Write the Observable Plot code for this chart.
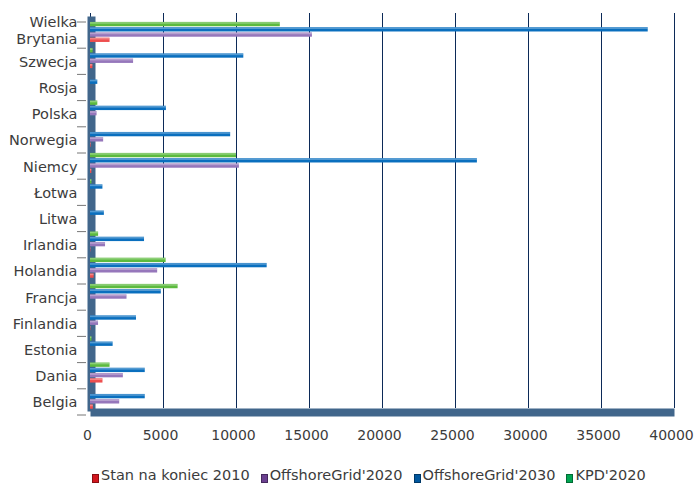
<!DOCTYPE html>
<html><head><meta charset="utf-8">
<script src="https://cdn.jsdelivr.net/npm/d3@7"></script>
<script src="https://cdn.jsdelivr.net/npm/@observablehq/plot@0.6"></script>
<style>
body{margin:0;background:#fff;font-family:"DejaVu Sans",sans-serif;}
#wrap{position:relative;width:695px;height:486px;overflow:hidden;}
#legend{position:absolute;left:92px;top:467px;display:flex;align-items:flex-end;font-size:14.5px;color:#3c3c3c;white-space:nowrap;line-height:17px;}
.item{display:flex;align-items:flex-end;margin-right:11px;}
.sw{width:7px;height:9px;margin-right:2px;margin-bottom:1px;box-sizing:border-box;border:1px solid rgba(0,0,0,0.35);}
</style></head><body><div id="wrap"></div>
<script>
const countries = ["Wielka Brytania","Szwecja","Rosja","Polska","Norwegia","Niemcy","Łotwa","Litwa","Irlandia","Holandia","Francja","Finlandia","Estonia","Dania","Belgia"];
const labels = ["Wielka\nBrytania","Szwecja","Rosja","Polska","Norwegia","Niemcy","Łotwa","Litwa","Irlandia","Holandia","Francja","Finlandia","Estonia","Dania","Belgia"];
const series = ["KPD'2020","OffshoreGrid'2030","OffshoreGrid'2020","Stan na koniec 2010"];
const kpd2020   = [13000, 180,   0,  500,    0, 10000, 100,   0,  555, 5180, 6000,    0,  100, 1340,    0];
const og2030    = [38200, 10500, 500, 5200, 9600, 26500, 850, 950, 3700, 12100, 4850, 3150, 1550, 3750, 3750];
const og2020    = [15200, 2950,  0,  450,  900, 10200,   0,   0, 1030, 4600, 2500,  550,    0, 2250, 2000];
const stan2010  = [1340,  164,   0,    0,   40,   92,   0,   0,   25,  249,    0,   26,    0,  854,  195];
const legendOrder = ["Stan na koniec 2010","OffshoreGrid'2020","OffshoreGrid'2030","KPD'2020"];
const legendColors = ["#d2161e","#6b4090","#00579e","#00a551"];
const barColors = ["#5cba3e","#0a6fbe","#9677bb","#ee4f4f"];
const xTicks = [0,5000,10000,15000,20000,25000,30000,35000,40000];

const valuesBySeries = [kpd2020, og2030, og2020, stan2010];
const rows = [];
countries.forEach((c,i)=>{ series.forEach((s,j)=>{ rows.push({country:c, series:s, value: valuesBySeries[j][i], key: c+"|"+s}); }); });
const yDomain = countries.flatMap(c => [...series.map(s => c+"|"+s), c+"|"]);
const yRange = [21.5, 414.5];
const bw = (yRange[1]-yRange[0]) / yDomain.length;

const chart = Plot.plot({
  width: 695, height: 455,
  marginLeft: 90, marginRight: 21, marginTop: 13, marginBottom: 47,
  style: {fontFamily: "DejaVu Sans", fontSize: "14px", color: "#3c3c3c", background: "white", overflow: "visible"},
  x: {domain: [0, 40000], axis: null},
  y: {domain: yDomain, range: yRange, padding: 0, round: false, axis: null},
  color: {domain: series, range: barColors},
  marks: [
    Plot.gridX(xTicks, {stroke: "#0c2a58", strokeOpacity: 1, strokeWidth: 1}),
    Plot.frame({anchor: "left", stroke: "#41668b", strokeWidth: 8, strokeLinecap: "butt", dx: 1, dy: 3}),
    Plot.frame({anchor: "bottom", stroke: "#41668b", strokeWidth: 8, strokeLinecap: "butt", dy: 4}),
    Plot.barX(rows, {x: "value", y: "key", fill: "series", insetTop: 0.4, insetBottom: 0.5}),
    Plot.barX(rows, {x: "value", y: "key", fill: "white", fillOpacity: 0.3, insetTop: 0.6, insetBottom: 3}),
    Plot.axisY(countries.map(c => c+"|"+series[0]), {label: null, tickSize: 9, dx: -4, dy: -bw/2, tickFormat: () => "", stroke: "#777"}),
    Plot.axisY([countries[countries.length-1]+"|"], {label: null, tickSize: 9, dx: -4, dy: bw/2, tickFormat: () => "", stroke: "#777"}),
    Plot.text(countries, {y: (c, i) => c + "|" + (labels[i].includes("\n") ? series[1] : series[2]), text: labels, frameAnchor: "left", textAnchor: "end", dx: -13, fontSize: 14.5, fill: "#3c3c3c", lineHeight: 1.2}),
    Plot.axisX(xTicks, {label: null, tickSize: 0, tickPadding: 22, dx: -3, tickFormat: d => String(d), fontSize: 14, fill: "#3c3c3c"})
  ]
});
const wrap = document.getElementById("wrap");
wrap.appendChild(chart);
const legend = document.createElement("div");
legend.id = "legend";
legendOrder.forEach((name, i) => {
  const it = document.createElement("div"); it.className = "item";
  const sw = document.createElement("div"); sw.className = "sw"; sw.style.background = legendColors[i];
  const tx = document.createElement("span"); tx.textContent = name;
  it.appendChild(sw); it.appendChild(tx); legend.appendChild(it);
});
wrap.appendChild(legend);
</script>
</body></html>
